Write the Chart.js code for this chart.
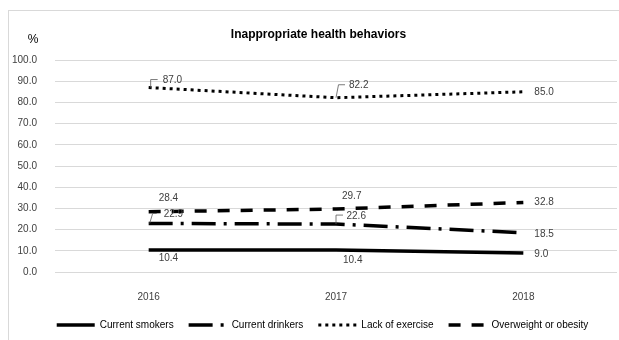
<!DOCTYPE html>
<html>
<head>
<meta charset="utf-8">
<script src="https://cdn.jsdelivr.net/npm/chart.js@4/dist/chart.umd.min.js"></script>
<style>
  body { margin: 0; background: #fff; }
  #wrap { position: relative; width: 619px; height: 340px; }
  #frame { position: absolute; left: 8px; top: 10px; width: 611px; height: 330px; border-left: 1px solid #d9d9d9; border-top: 1px solid #d9d9d9; box-sizing: border-box; }
  canvas { position: absolute; left: 0; top: 0; }
</style>
</head>
<body>
<div id="wrap">
  <div id="frame"></div>
  <canvas id="chart" width="619" height="340"></canvas>
</div>
<script>
// chart data
const years = ['2016', '2017', '2018'];
const smokers = [10.4, 10.4, 9.0];
const drinkers = [22.9, 22.6, 18.5];
const exercise = [87.0, 82.2, 85.0];
const overweight = [28.4, 29.7, 32.8];
const seriesNames = ['Current smokers', 'Current drinkers', 'Lack of exercise', 'Overweight or obesity'];

// label placement relative to each point: [dx, dy, leader points or null]
const labelPos = [
    [[10, 8], [7, 10], [11, 1]],
    [[15, -9, [[1, 0], [4, -10], [8, -10]]], [10.5, -8, [[0, 0], [0, -9], [7, -9]]], [11, 1]],
    [[14, -7, [[2, 0], [2, -8], [9, -8]]], [13, -12, [[0, 0], [2.5, -13], [9, -13]]], [11, 0.5]],
    [[10, -14], [6, -12.5], [11, 0]]
];

const textColor = '#404040';
const fontFamily = '"Liberation Sans", Arial, sans-serif';

const dataLabels = {
    id: 'dataLabels',
    afterDatasetsDraw(chart) {
        const ctx = chart.ctx;
        ctx.save();
        ctx.font = '10px ' + fontFamily;
        ctx.fillStyle = textColor;
        ctx.textBaseline = 'middle';
        ctx.textAlign = 'left';
        chart.data.datasets.forEach((ds, di) => {
            chart.getDatasetMeta(di).data.forEach((pt, i) => {
                const p = labelPos[di][i];
                if (p[2]) {
                    ctx.strokeStyle = '#595959';
                    ctx.lineWidth = 0.8;
                    ctx.setLineDash([]);
                    ctx.beginPath();
                    p[2].forEach((q, k) => {
                        if (k === 0) ctx.moveTo(pt.x + q[0], pt.y + q[1]);
                        else ctx.lineTo(pt.x + q[0], pt.y + q[1]);
                    });
                    ctx.stroke();
                }
                ctx.fillText(ds.data[i].toFixed(1), pt.x + p[0], pt.y + p[1]);
            });
        });
        // unit label
        const y = chart.scales.y;
        ctx.font = '12px ' + fontFamily;
        ctx.fillStyle = '#000';
        ctx.textAlign = 'center';
        ctx.fillText('%', y.right - 22, chart.chartArea.top - 20);
        ctx.restore();
    },
    afterLayout(chart) {
        // nudge legend and title to the right like the original
        chart.legend.left += 10;
        chart.legend.right += 10;
        chart.titleBlock.left += 6;
        chart.titleBlock.right += 6;
    }
};

const ctx = document.getElementById('chart').getContext('2d');

new Chart(ctx, {
    type: 'line',
    data: {
        labels: years,
        datasets: [
            { label: seriesNames[0], data: smokers, borderColor: '#000', borderWidth: 3.5, borderDash: [] },
            { label: seriesNames[1], data: drinkers, borderColor: '#000', borderWidth: 3.5, borderDash: [24, 8, 3, 8] },
            { label: seriesNames[2], data: exercise, borderColor: '#000', borderWidth: 3, borderDash: [3, 4] },
            { label: seriesNames[3], data: overweight, borderColor: '#000', borderWidth: 3.5, borderDash: [12, 11] }
        ]
    },
    options: {
        responsive: false,
        animation: false,
        events: [],
        elements: { point: { radius: 0 }, line: { tension: 0, fill: false } },
        layout: { padding: { left: 8, right: 2, top: 22, bottom: 0 } },
        scales: {
            x: {
                offset: true,
                grid: { display: false },
                border: { display: false },
                ticks: { color: textColor, font: { size: 10, family: fontFamily }, padding: 11 },
                afterFit: function (scale) { scale.height = 33; }
            },
            y: {
                min: 0,
                max: 100,
                grid: { color: '#d9d9d9', lineWidth: 1, drawTicks: false },
                border: { display: false },
                ticks: {
                    stepSize: 10,
                    color: textColor,
                    font: { size: 10, family: fontFamily },
                    padding: 18,
                    callback: v => v.toFixed(1)
                },
                afterFit: function (scale) { scale.width = 47; }
            }
        },
        plugins: {
            title: {
                display: true,
                text: 'Inappropriate health behaviors',
                color: '#000',
                font: { size: 12, weight: 'bold', family: fontFamily },
                padding: { top: 5, bottom: 18.6 }
            },
            legend: {
                position: 'bottom',
                labels: {
                    usePointStyle: true,
                    pointStyle: 'line',
                    pointStyleWidth: 38,
                    padding: 15,
                    color: textColor,
                    font: { size: 10, family: fontFamily },
                    generateLabels: function (chart) {
                        return chart.data.datasets.map((ds, i) => ({
                            text: ds.label,
                            strokeStyle: '#000',
                            fillStyle: '#000',
                            lineWidth: ds.borderWidth,
                            lineDash: ds.borderDash,
                            pointStyle: 'line',
                            datasetIndex: i
                        }));
                    }
                }
            },
            tooltip: { enabled: false }
        }
    },
    plugins: [dataLabels]
});
</script>
</body>
</html>
